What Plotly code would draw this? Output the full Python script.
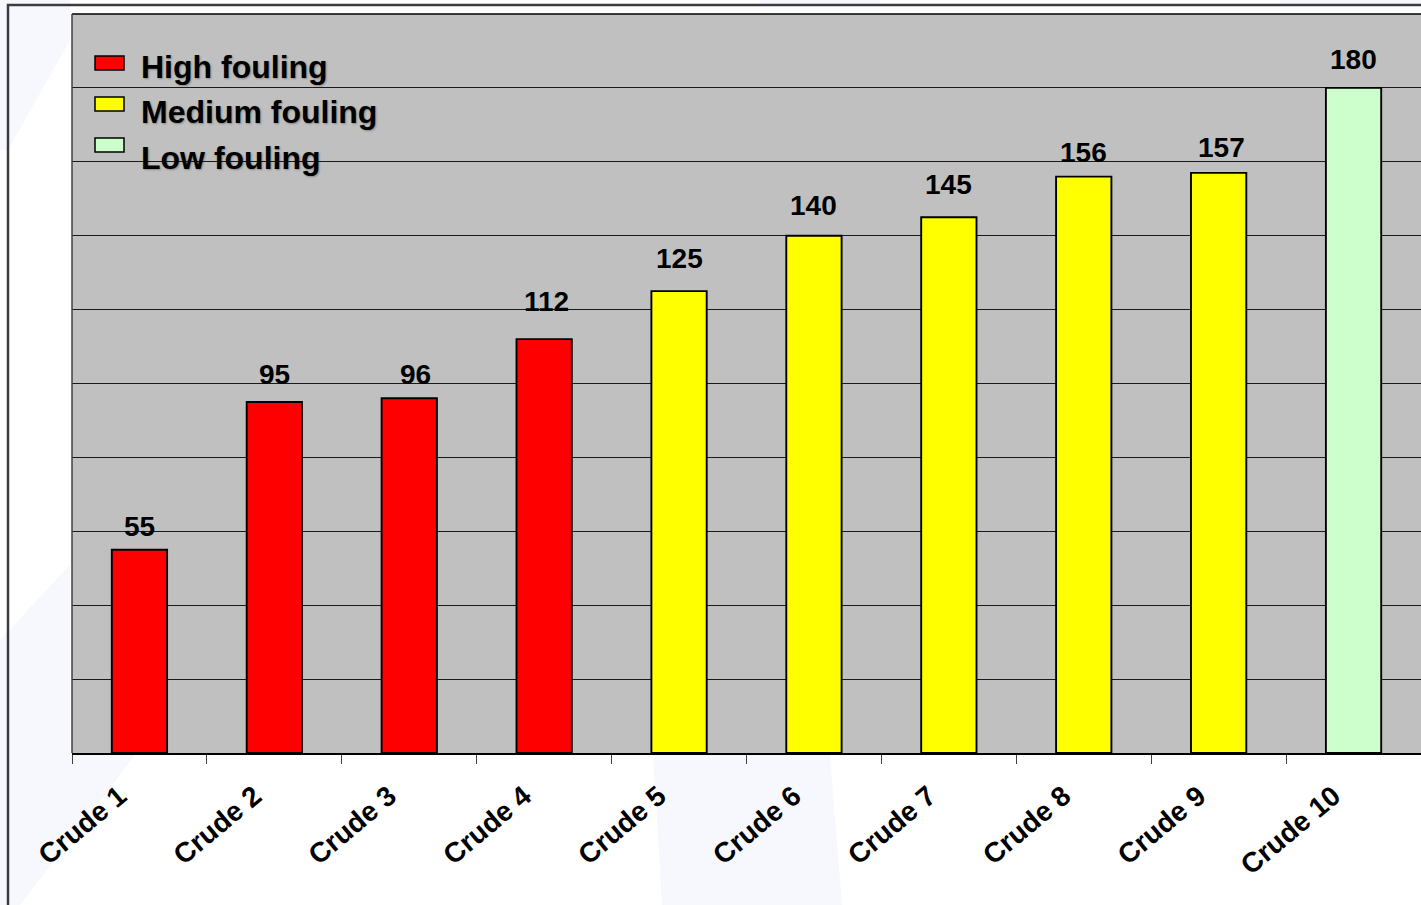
import plotly.graph_objects as go

# ---- data -------------------------------------------------------------
crudes = ["Crude 1", "Crude 2", "Crude 3", "Crude 4", "Crude 5",
          "Crude 6", "Crude 7", "Crude 8", "Crude 9", "Crude 10"]
values = [55, 95, 96, 112, 125, 140, 145, 156, 157, 180]
fouling = ["High", "High", "High", "High", "Medium",
           "Medium", "Medium", "Medium", "Medium", "Low"]

classes = ["High", "Medium", "Low"]
class_labels = ["High fouling", "Medium fouling", "Low fouling"]
class_colors = {"High": "#ff0000", "Medium": "#ffff00", "Low": "#ccffcc"}

# hand-placed nudges (px) for the value labels
label_dx = [0, 0, 6, 2, 0, 0, 0, 0, 3, 0]
label_dy = [-2, 2, -2, 12, 7, 5, 7, -1, 0, 3]

# ---- canvas geometry --------------------------------------------------
W, H = 1421, 905
L, T, B, R = 72, 14, 152, 0
PW, PH = W - L - R, H - T - B


def px(x):
    return (x - L) / PW


def py(y):
    return (H - B - y) / PH


FONT = "Liberation Sans, Arial, sans-serif"

fig = go.Figure()

for cls in classes:
    xs = [c for c, f in zip(crudes, fouling) if f == cls]
    ys = [v for v, f in zip(values, fouling) if f == cls]
    fig.add_trace(go.Bar(
        x=xs, y=ys, name=class_labels[classes.index(cls)],
        marker=dict(color=class_colors[cls],
                    line=dict(color="#000000", width=1.9)),
        showlegend=False,
    ))

# value labels above the bars
for c, v, dx, dy in zip(crudes, values, label_dx, label_dy):
    fig.add_annotation(
        x=c, y=v, text=f"<b>{v}</b>", showarrow=False,
        xref="x", yref="y", yanchor="bottom", yshift=8 + dy, xshift=dx,
        font=dict(family=FONT, size=28, color="#000000"),
    )

shapes = []

# faint background decoration outside the plot area
deco = "#f6f8fd"
for pts in [
    [(0, 0), (70, 0), (70, 40), (8, 150), (0, 150)],
    [(0, 640), (70, 565), (70, 755), (135, 755), (20, 905), (0, 905)],
    [(653, 755), (830, 755), (842, 905), (662, 905)],
    [(760, 0), (880, 0), (880, 4), (760, 4)],
    [(1280, 0), (1421, 0), (1421, 4), (1280, 4)],
]:
    path = "M " + " L ".join(f"{px(x)},{py(y)}" for x, y in pts) + " Z"
    shapes.append(dict(type="path", path=path, xref="paper", yref="paper",
                       fillcolor=deco, line=dict(width=0), layer="below"))

# outer frame
shapes.append(dict(type="rect", xref="paper", yref="paper",
                   x0=px(8), x1=px(1440), y0=py(1000), y1=py(5),
                   line=dict(color="#3c3c3c", width=2.5), layer="above"))

# plot-area border (top and left edges)
shapes.append(dict(type="line", xref="paper", yref="paper",
                   x0=0, x1=1.02, y0=1, y1=1,
                   line=dict(color="#000000", width=1.5)))
shapes.append(dict(type="line", xref="paper", yref="paper",
                   x0=0, x1=0, y0=0, y1=1,
                   line=dict(color="#404040", width=1.5)))

# custom legend
sw_tops = [56, 97, 138]
txt_mid = [67, 112, 158]
for cls, lab, st, tm in zip(classes, class_labels, sw_tops, txt_mid):
    shapes.append(dict(type="rect", xref="paper", yref="paper",
                       x0=px(95), x1=px(124), y0=py(st + 14), y1=py(st),
                       fillcolor=class_colors[cls],
                       line=dict(color="#000000", width=1.5)))
    fig.add_annotation(
        x=px(139), y=py(tm), xref="paper", yref="paper",
        xanchor="left", yanchor="middle", showarrow=False,
        text=f"<b>{lab}</b>",
        font=dict(family=FONT, size=32, color="#000000",
                  shadow="1px 1px 2px rgba(0,0,0,0.3)"),
    )

fig.update_layout(
    width=W, height=H,
    margin=dict(l=L, r=R, t=T, b=B, pad=0),
    paper_bgcolor="#ffffff",
    plot_bgcolor="#c0c0c0",
    barmode="relative",
    bargap=0.59,
    shapes=shapes,
    font=dict(family=FONT, color="#000000"),
    xaxis=dict(
        type="category", categoryorder="array", categoryarray=crudes,
        tickson="boundaries", ticks="outside", ticklen=9, tickwidth=1.2,
        tickcolor="#404040", showline=True, linecolor="#000000", linewidth=1.5,
        tickangle=-40, showgrid=False,
        ticklabelstandoff=14, ticklabelshift=-20,
        tickfont=dict(family=FONT, size=28, color="#000000", weight="bold"),
    ),
    yaxis=dict(
        range=[0, 200], dtick=20, showticklabels=False, ticks="",
        showgrid=True, gridcolor="#1a1a1a", gridwidth=1,
        zeroline=False, showline=False,
    ),
)

fig.write_html("out.html")
